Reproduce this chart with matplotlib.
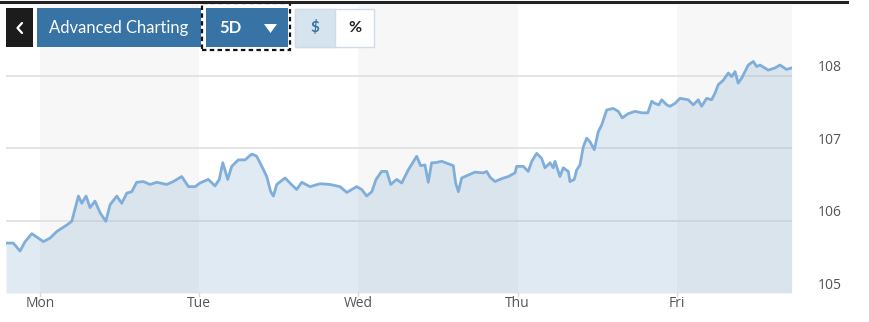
import matplotlib.pyplot as plt
import numpy as np
from matplotlib.patches import Rectangle, Polygon
from matplotlib.lines import Line2D

# =========================
# DATA
# =========================
# time in trading days, Mon = 0
t = [-0.214, -0.168, -0.126, -0.094, -0.052, 0.021, 0.063, 0.105, 0.168, 0.199,
     0.241, 0.262, 0.289, 0.314, 0.345, 0.377, 0.413, 0.440, 0.482, 0.513,
     0.545, 0.576, 0.607, 0.649, 0.691, 0.733, 0.796, 0.837, 0.890, 0.932,
     0.974, 1.005, 1.057, 1.099, 1.126, 1.148, 1.179, 1.204, 1.246, 1.288,
     1.330, 1.361, 1.393, 1.424, 1.449, 1.466, 1.487, 1.539, 1.570, 1.612,
     1.644, 1.696, 1.759, 1.822, 1.884, 1.927, 1.989, 2.021, 2.052, 2.084,
     2.111, 2.146, 2.178, 2.203, 2.241, 2.272, 2.313, 2.366, 2.391, 2.418,
     2.439, 2.460, 2.481, 2.523, 2.596, 2.611, 2.628, 2.649, 2.690, 2.732,
     2.785, 2.806, 2.827, 2.858, 2.900, 2.942, 2.984, 2.994, 3.036, 3.067,
     3.089, 3.120, 3.151, 3.172, 3.204, 3.224, 3.235, 3.266, 3.287, 3.319,
     3.329, 3.356, 3.371, 3.392, 3.413, 3.434, 3.455, 3.482, 3.507, 3.528,
     3.560, 3.601, 3.633, 3.658, 3.696, 3.738, 3.780, 3.818, 3.843, 3.863,
     3.888, 3.905, 3.937, 3.957, 3.989, 4.020, 4.072, 4.104, 4.135, 4.156,
     4.188, 4.219, 4.240, 4.261, 4.292, 4.324, 4.345, 4.366, 4.386, 4.408,
     4.433, 4.449, 4.481, 4.502, 4.523, 4.575, 4.617, 4.648, 4.690, 4.722]

price = [105.69, 105.69, 105.58, 105.71, 105.82, 105.71, 105.76, 105.85, 105.94, 105.99,
         106.34, 106.24, 106.34, 106.18, 106.27, 106.11, 105.99, 106.22, 106.34, 106.24,
         106.38, 106.40, 106.53, 106.54, 106.50, 106.53, 106.50, 106.54, 106.61, 106.47,
         106.47, 106.52, 106.57, 106.48, 106.57, 106.80, 106.57, 106.75, 106.84, 106.84,
         106.92, 106.89, 106.75, 106.61, 106.40, 106.34, 106.50, 106.59, 106.52, 106.43,
         106.53, 106.47, 106.51, 106.50, 106.47, 106.39, 106.47, 106.43, 106.34, 106.40,
         106.57, 106.68, 106.68, 106.50, 106.57, 106.52, 106.70, 106.89, 106.76, 106.77,
         106.53, 106.80, 106.80, 106.82, 106.76, 106.52, 106.40, 106.59, 106.63, 106.67,
         106.66, 106.68, 106.60, 106.54, 106.58, 106.61, 106.66, 106.75, 106.75, 106.68,
         106.82, 106.93, 106.86, 106.73, 106.80, 106.73, 106.82, 106.61, 106.73, 106.68,
         106.54, 106.57, 106.70, 106.77, 107.02, 107.14, 107.09, 106.98, 107.23, 107.32,
         107.53, 107.55, 107.51, 107.42, 107.48, 107.51, 107.49, 107.49, 107.65, 107.62,
         107.60, 107.67, 107.60, 107.58, 107.62, 107.69, 107.67, 107.60, 107.67, 107.58,
         107.69, 107.67, 107.76, 107.88, 107.94, 108.04, 107.99, 108.06, 107.90, 107.97,
         108.08, 108.15, 108.20, 108.13, 108.15, 108.08, 108.11, 108.15, 108.09, 108.11]

days = ["Mon", "Tue", "Wed", "Thu", "Fri"]
y_ticks = [105, 106, 107, 108]

# =========================
# FIGURE
# =========================
W, H = 870, 322
fig = plt.figure(figsize=(W / 100, H / 100), dpi=100, facecolor="white")


def fx(px):
    return px / W


def fy(py):
    return 1 - py / H


x0, x1, y0, y1 = 6, 792, 5, 293
ax = fig.add_axes([fx(x0), fy(y1), fx(x1 - x0), (y1 - y0) / H])
ax.set_xlim(-0.214, 4.724)
ax.set_ylim(105, 108.98)
for s in ax.spines.values():
    s.set_visible(False)
ax.set_xticks([])
ax.set_yticks([])

# alternating day bands
for i in range(0, len(days), 2):
    ax.axvspan(i, i + 1, color="#f7f7f7", lw=0, zorder=0)

# gridlines
for v in y_ticks[1:]:
    ax.axhline(v, color="#dddddd", lw=1.1, zorder=1)

ax.fill_between(t, 105, price, color="#83afcf", alpha=0.25, lw=0, zorder=2)
ax.plot(t, price, color="#80aedb", lw=2.0, zorder=3, solid_joinstyle="round")

# y labels on the right
for v in y_ticks:
    ax.text(1.048, v + 0.11, f"{v}", transform=ax.get_yaxis_transform(),
            ha="center", va="center", fontsize=10, color="#555555",
            family="Open Sans")

# day labels + small ticks
for i, d in enumerate(days):
    ax.text(i, -0.035, d, transform=ax.get_xaxis_transform(), ha="center",
            va="center", fontsize=10, color="#555555", family="Open Sans")
    ax.plot([i, i], [0, -0.012], transform=ax.get_xaxis_transform(),
            color="#d8d8d8", lw=1, clip_on=False)

# =========================
# TOP BAR + BUTTONS
# =========================
fig.add_artist(Line2D([fx(0), fx(847)], [fy(2), fy(2)], color="#222222", lw=2.2))


def rect(xa, ya, xb, yb, fc, ec="none", lw=0, ls="-"):
    fig.add_artist(Rectangle((fx(xa), fy(yb)), fx(xb - xa), (yb - ya) / H,
                             transform=fig.transFigure, facecolor=fc,
                             edgecolor=ec, lw=lw, linestyle=ls))


def label(xp, yp, s, **kw):
    fig.text(fx(xp), fy(yp), s, ha="center", va="center", **kw)


blue = "#3773a5"
rect(6, 8, 33, 47, "#1c1c1c")
# chevron
fig.add_artist(Line2D([fx(22), fx(17.5), fx(22)], [fy(23), fy(28), fy(33)],
                      color="white", lw=1.6, solid_capstyle="round"))

rect(37, 8, 201, 47, blue)
label(119, 28, "Advanced Charting", color="white", fontsize=12, family="Lato")

rect(206, 8, 288, 47, blue)
rect(202, 3, 290, 50, "none", ec="#111111", lw=1.6, ls=(0, (2, 1.5)))
label(230, 28, "5D", color="white", fontsize=12, fontweight="bold", family="Lato")
fig.add_artist(Polygon([[fx(264), fy(24)], [fx(277), fy(24)], [fx(270.5), fy(33)]],
                       closed=True, transform=fig.transFigure, facecolor="white",
                       edgecolor="none"))

rect(295, 9, 374, 47, "white", ec="#cfdbe6", lw=1)
rect(295, 9, 335, 47, "#d6e4f0", ec="#cfdbe6", lw=1)
label(315, 28, "$", color=blue, fontsize=11, fontweight="bold", family="Lato")
label(354.5, 28, "%", color="#222222", fontsize=11.5, fontweight="bold", family="Lato")

fig.savefig("out.png", dpi=100, facecolor="white")
